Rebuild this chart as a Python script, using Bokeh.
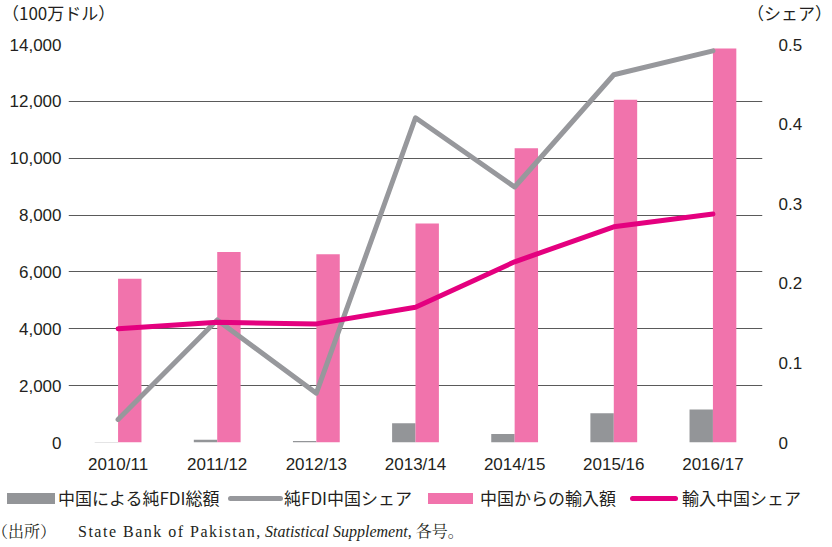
from bokeh.plotting import figure
from bokeh.layouts import column
from bokeh.models import (FactorRange, Range1d, LinearAxis, FixedTicker, NumeralTickFormatter,
                          CustomJSTickFormatter, ColumnDataSource, Div)
from bokeh.transform import dodge
from bokeh.embed import file_html
from bokeh.resources import INLINE

years = ["2010/11", "2011/12", "2012/13", "2013/14", "2014/15", "2015/16", "2016/17"]
fdi_china = [20, 95, 50, 680, 300, 1030, 1160]          # 中国による純FDI総額 (100万ドル)
fdi_share = [0.029, 0.154, 0.062, 0.408, 0.321, 0.462, 0.492]   # 純FDI中国シェア
imports_china = [5760, 6700, 6620, 7700, 10350, 12060, 13860]   # 中国からの輸入額 (100万ドル)
import_share = [0.143, 0.151, 0.149, 0.170, 0.227, 0.271, 0.287]  # 輸入中国シェア

left_ticks = [0, 2000, 4000, 6000, 8000, 10000, 12000, 14000]
right_ticks = [0, 0.1, 0.2, 0.3, 0.4, 0.5]

legend_labels = ["中国による純FDI総額", "純FDI中国シェア", "中国からの輸入額", "輸入中国シェア"]
unit_left = "（100万ドル）"
unit_right = "（シェア）"
source_parts = ["（出所）", "State Bank of Pakistan,", "Statistical Supplement", ", 各号。"]

GRAY_BAR = "#939598"
GRAY_LINE = "#97989c"
PINK_BAR = "#f173ac"
PINK_LINE = "#e4007f"
TEXT = "#231f20"
SANS = "Liberation Sans"
JP = "Noto Sans CJK JP"
SERIF_CSS = "'Liberation Serif','Noto Serif CJK JP','Noto Sans CJK JP'"

# ---------- top strip: unit labels ----------
top = Div(width=832, height=30, margin=0, text=(
    f'<div style="position:relative;width:832px;height:30px;font-family:\'{JP}\';'
    f'font-size:17px;color:{TEXT};line-height:20px;white-space:nowrap">'
    f'<span style="position:absolute;left:2px;top:3px">{unit_left}</span>'
    f'<span style="position:absolute;right:0px;top:3px">{unit_right}</span></div>'))

# ---------- main chart ----------
src = ColumnDataSource(dict(years=years, fdi=fdi_china, fdi_share=fdi_share,
                            imp=imports_china, imp_share=import_share))

p = figure(width=832, height=450, x_range=FactorRange(*years),
           y_range=Range1d(0, 14000), output_backend="svg", toolbar_location=None,
           min_border_left=68, min_border_right=70, min_border_top=14, min_border_bottom=38)
p.extra_y_ranges = {"share": Range1d(0, 0.5)}
p.outline_line_color = None
p.xgrid.grid_line_color = None
p.ygrid.grid_line_color = "#5a5a5a"
p.ygrid.grid_line_width = 1
p.ygrid.ticker = FixedTicker(ticks=left_ticks)

bw = 0.236
p.vbar(x=dodge("years", -bw / 2, range=p.x_range), top="fdi", width=bw,
       source=src, fill_color=GRAY_BAR, line_color=None)
p.vbar(x=dodge("years", bw / 2, range=p.x_range), top="imp", width=bw,
       source=src, fill_color=PINK_BAR, line_color=None)
p.line(x="years", y="fdi_share", source=src, y_range_name="share",
       line_color=GRAY_LINE, line_width=5, line_cap="round", line_join="round")
p.line(x="years", y="imp_share", source=src, y_range_name="share",
       line_color=PINK_LINE, line_width=5, line_cap="round", line_join="round")

ya = p.yaxis[0]
ya.ticker = FixedTicker(ticks=left_ticks)
ya.formatter = NumeralTickFormatter(format="0,0")
ya.axis_line_color = None
ya.major_tick_line_color = None
ya.minor_tick_line_color = None
ya.major_tick_out = 0
ya.major_label_standoff = 7
ya.major_label_text_font = SANS
ya.major_label_text_font_size = "17px"
ya.major_label_text_color = TEXT

ra = LinearAxis(y_range_name="share", ticker=FixedTicker(ticks=right_ticks),
                formatter=CustomJSTickFormatter(code="return tick.toFixed(1).replace(/\\.0$/, '')"))
ra.axis_line_color = None
ra.major_tick_line_color = None
ra.minor_tick_line_color = None
ra.major_tick_out = 0
ra.major_label_standoff = 16
ra.major_label_text_font = SANS
ra.major_label_text_font_size = "17px"
ra.major_label_text_color = TEXT
p.add_layout(ra, "right")

xa = p.xaxis[0]
xa.axis_line_color = None
xa.major_tick_line_color = None
xa.minor_tick_line_color = None
xa.major_tick_out = 0
xa.major_label_standoff = 12
xa.major_label_text_font = SANS
xa.major_label_text_font_size = "17px"
xa.major_label_text_color = TEXT

# ---------- bottom strip: legend + source ----------
def box(left, width, height, color, radius=0):
    return (f'<span style="position:absolute;left:{left}px;top:{18 - height / 2}px;'
            f'width:{width}px;height:{height}px;background:{color};'
            f'border-radius:{radius}px"></span>')


def lab(left, text):
    return f'<span style="position:absolute;left:{left}px;top:8px">{text}</span>'


legend_html = (box(7, 48, 11, GRAY_BAR) + lab(58, legend_labels[0]) +
               box(228, 55, 5, GRAY_LINE, 2.5) + lab(284, legend_labels[1]) +
               box(428, 45, 11, PINK_BAR) + lab(480, legend_labels[2]) +
               box(630, 48, 5, PINK_LINE, 2.5) + lab(682, legend_labels[3]))

SRC_STYLE = f'position:absolute;top:42px;font-family:{SERIF_CSS};font-size:16px;'
source_html = (
    f'<span style="{SRC_STYLE}left:0px;font-feature-settings:\'halt\'">{source_parts[0]}</span>'
    f'<span style="{SRC_STYLE}left:78px;letter-spacing:1.5px">{source_parts[1]}</span>'
    f'<span style="{SRC_STYLE}left:265px"><i>{source_parts[2]}</i>{source_parts[3]}</span>')

bottom = Div(width=832, height=67, margin=0, text=(
    f'<div style="position:relative;width:832px;height:67px;font-family:\'{JP}\';'
    f'font-size:17px;color:{TEXT};line-height:20px;white-space:nowrap">'
    f'{legend_html}{source_html}</div>'))

layout = column(top, p, bottom, spacing=0)
open("out.html", "w").write(file_html(layout, INLINE))
